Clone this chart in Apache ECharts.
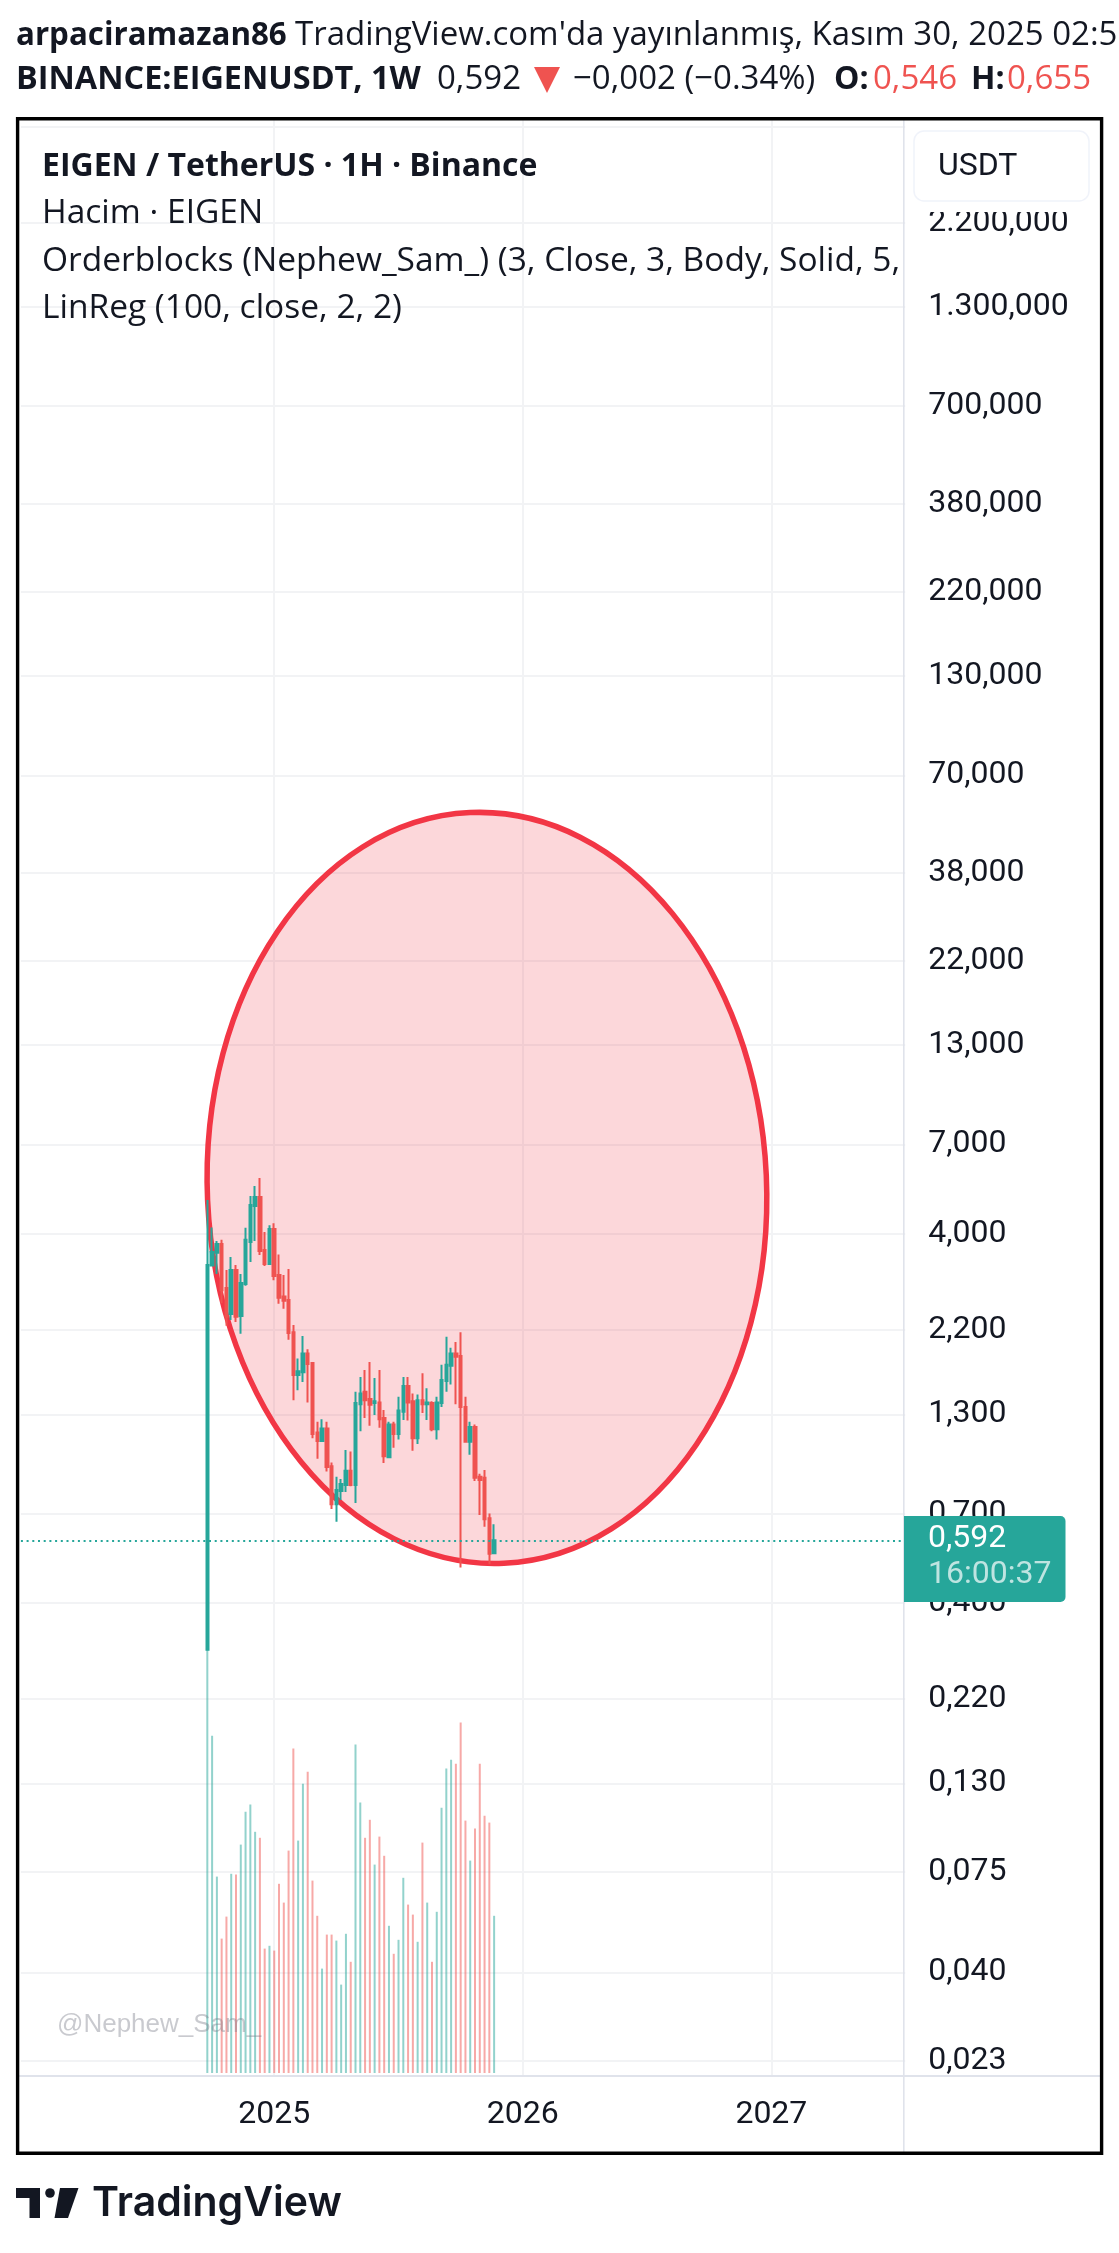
<!DOCTYPE html>
<html>
<head>
<meta charset="utf-8">
<style>
  html, body { margin: 0; padding: 0; background: #fff; }
  #container { width: 1119px; height: 2253px; }
</style>
</head>
<body>
<div id="container"></div>
<script src="https://cdn.jsdelivr.net/npm/echarts@6/dist/echarts.min.js"></script>
<script>
// weekly candles
const opens  = [0.299,3.29,3.56,3.76,2.86,2.43,3.20,2.40,2.93,3.81,4.77,5.04,3.62,3.32,4.13,3.10,2.71,2.65,2.17,1.66,1.69,1.90,1.79,1.16,1.10,1.19,0.94,0.742,0.806,0.836,0.914,0.836,1.385,1.495,1.43,1.395,1.40,1.27,0.995,1.22,1.15,1.32,1.55,1.41,1.12,1.42,1.385,1.395,1.185,1.395,1.60,1.76,1.90,1.87,1.36,1.095,1.20,0.88,0.875,0.68,0.546];
const closes = [3.30,3.58,3.76,2.82,2.39,3.20,2.39,2.95,3.86,4.80,5.04,3.60,3.32,4.13,3.08,2.69,2.64,2.16,1.66,1.70,1.90,1.78,1.15,1.10,1.19,0.936,0.742,0.811,0.842,0.914,0.836,1.395,1.48,1.42,1.38,1.41,1.26,1.00,1.22,1.15,1.33,1.55,1.40,1.12,1.42,1.385,1.40,1.185,1.40,1.61,1.77,1.90,1.86,1.36,1.095,1.20,0.875,0.863,0.675,0.545,0.592];
const lows   = [0.299,3.29,3.12,2.60,2.26,2.34,2.31,2.15,2.90,3.36,3.83,3.51,3.28,3.32,3.00,2.59,2.51,2.07,1.42,1.51,1.59,1.40,1.12,0.985,1.10,0.91,0.72,0.665,0.762,0.80,0.83,0.748,1.17,1.27,1.21,1.295,1.195,0.96,0.995,1.055,1.11,1.255,1.25,1.035,1.08,1.31,1.255,1.17,1.11,1.36,1.495,1.565,1.385,0.50,1.09,1.01,0.858,0.694,0.645,0.51,0.543];
const highs  = [4.95,4.17,3.83,3.86,3.20,3.47,3.30,3.12,4.16,5.07,5.40,5.68,4.05,4.23,4.28,3.52,3.10,3.22,2.27,1.84,2.12,1.95,1.80,1.24,1.26,1.24,0.963,0.88,0.868,1.04,1.03,1.495,1.64,1.714,1.80,1.63,1.714,1.336,1.24,1.24,1.45,1.64,1.64,1.48,1.47,1.68,1.53,1.41,1.45,1.77,2.11,1.97,2.04,2.17,1.45,1.24,1.22,0.897,0.919,0.70,0.655];
const volumes = [108,84.3,49.1,33.6,39.1,49.8,49.6,57.1,65.3,67.1,60.3,58.8,31.1,31.8,30.6,47.3,42.6,55.6,81.1,58.1,72.3,75.3,48.1,39.3,26.1,34.6,34.6,33.1,22.1,34.8,27.8,82.1,67.6,58.8,63.3,52.1,59.1,54.3,36.8,29.8,33.3,48.8,42.1,39.6,32.8,57.6,42.6,27.8,40.3,66.3,76.1,78.3,77.3,87.6,63.1,53.1,61.1,77.3,64.3,62.6,39.3];

const priceTicks = [4000,2200,1300,700,380,220,130,70,38,22,13,7,4,2.2,1.3,0.7,0.4,0.22,0.13,0.075,0.04,0.023];
const labelTicks = priceTicks.slice(1);
const yearTicks = ['2025-01-06','2026-01-05','2027-01-04'];
const lastPrice = 0.592;
// circle drawing anchors: time span and price span
const ellipseWeeks = ['2024-09-30','2026-12-28'];
const ellipsePrices = [55.6,0.512];
const ellipseTilt = 0.045;

const teal = '#26a69a';
const red = '#ef5350';
const ink = '#131722';
const gridColor = '#f2f3f5';
const paneLine = '#e0e3eb';
const WEEK = 7 * 24 * 3600 * 1000;

// the time axis runs on weekly slots, data starts at 2024-09-30
let weeks = [];
for (let i = 0; i < 186; i++) {
    weeks.push(new Date(Date.UTC(2024, 0, 1) + i * WEEK).toISOString().slice(0, 10));
}
const firstWeek = weeks.indexOf('2024-09-30');
const candleData = opens.map((o, i) => [weeks[firstWeek + i], o, closes[i], lows[i], highs[i]]);
const volumeData = volumes.map((v, i) => ({
    value: [weeks[firstWeek + i], v],
    itemStyle: { color: closes[i] >= opens[i] ? 'rgba(38,166,154,0.5)' : 'rgba(239,83,80,0.5)' }
}));

function fmtPrice(v) {
    return Number(v).toLocaleString('tr-TR', { minimumFractionDigits: 3, maximumFractionDigits: 3 });
}

function txt(x, y, text, font, fill, extra) {
    return {
        type: 'text', x: x, y: y, z: 20, silent: true,
        style: Object.assign({ text: text, font: font, fill: fill, textVerticalAlign: 'middle' }, extra || {})
    };
}

const sans = '"Open Sans"';
const mono = 'Roboto';

var dom = document.getElementById('container');
var myChart = echarts.init(dom, null, { renderer: 'canvas' });

var option = {
    animation: false,
    backgroundColor: '#fff',
    grid: { left: 20.9, right: 1119 - 905.2, top: 120, bottom: 2253 - 2076 },
    xAxis: {
        type: 'category',
        data: weeks,
        boundaryGap: false,
        axisLine: { show: false },
        axisTick: { show: false },
        splitLine: {
            show: true,
            interval: (i, v) => yearTicks.includes(v),
            lineStyle: { color: gridColor, width: 2 }
        },
        axisLabel: {
            interval: (i, v) => yearTicks.includes(v),
            formatter: v => v.slice(0, 4),
            margin: 23,
            color: ink,
            fontFamily: mono,
            fontSize: 32,
            hideOverlap: false
        }
    },
    yAxis: [
        {
            type: 'log',
            logBase: 10,
            position: 'right',
            min: 0.02095,
            max: 4173,
            axisLine: { show: false },
            axisTick: { show: false, customValues: priceTicks },
            splitLine: { show: true, lineStyle: { color: gridColor, width: 2 } },
            axisLabel: {
                customValues: labelTicks,
                formatter: fmtPrice,
                margin: 23,
                color: ink,
                fontFamily: mono,
                fontSize: 32
            }
        },
        {
            // hidden volume scale, base sits just above the time axis
            type: 'value',
            min: -0.75,
            max: 488.25,
            show: false,
            splitLine: { show: false }
        }
    ],
    series: [
        {
            type: 'custom',
            name: 'circle',
            z: 1,
            silent: true,
            clip: false,
            data: [[ellipseWeeks[0], ellipsePrices[0], ellipseWeeks[1], ellipsePrices[1]]],
            encode: { x: [0, 2], y: [1, 3] },
            renderItem: function (params, api) {
                const a = api.coord([ellipseWeeks[0], ellipsePrices[0]]);
                const b = api.coord([ellipseWeeks[1], ellipsePrices[1]]);
                const cx = (a[0] + b[0]) / 2;
                const cy = (a[1] + b[1]) / 2;
                return {
                    type: 'ellipse',
                    x: cx,
                    y: cy,
                    rotation: ellipseTilt,
                    shape: { cx: 0, cy: 0, rx: (b[0] - a[0]) / 2, ry: (b[1] - a[1]) / 2 },
                    style: { fill: 'rgba(242,54,69,0.2)', stroke: '#f23645', lineWidth: 5.5 }
                };
            }
        },
        {
            type: 'bar',
            name: 'Hacim',
            yAxisIndex: 1,
            z: 2,
            barWidth: 2,
            silent: true,
            data: volumeData
        },
        {
            type: 'candlestick',
            name: 'EIGEN / TetherUS',
            z: 3,
            barWidth: 3,
            silent: true,
            clip: false,
            data: candleData,
            encode: { x: 0, y: [1, 2, 3, 4] },
            itemStyle: { color: teal, color0: red, borderColor: teal, borderColor0: red, borderWidth: 2 },
            markLine: {
                silent: true,
                symbol: 'none',
                label: { show: false },
                lineStyle: { color: teal, type: [2, 3.7], width: 2, opacity: 1 },
                data: [{ yAxis: lastPrice }]
            }
        }
    ],
    graphic: [
        // frame, pane separators
        { type: 'rect', z: 15, silent: true, shape: { x: 906, y: 120, width: 194, height: 92 }, style: { fill: '#fff' } },
        { type: 'rect', z: 15, silent: true, shape: { x: 903, y: 119, width: 1.6, height: 2033 }, style: { fill: paneLine } },
        { type: 'rect', z: 15, silent: true, shape: { x: 19, y: 2075, width: 1082, height: 2 }, style: { fill: paneLine } },
        { type: 'rect', z: 30, silent: true, shape: { x: 17.6, y: 118.7, width: 1084, height: 2034.5 }, style: { fill: 'none', stroke: '#000', lineWidth: 3.4 } },
        // currency box
        { type: 'rect', z: 16, silent: true, shape: { x: 914, y: 131, width: 175, height: 70, r: 10 }, style: { fill: '#fff', stroke: '#f0f3fa', lineWidth: 1.5 } },
        txt(938, 167, 'USDT', '32px ' + mono, ink),
        // last price tag
        { type: 'rect', z: 16, silent: true, shape: { x: 904, y: 1516, width: 161.5, height: 86, r: [0, 5, 5, 0] }, style: { fill: teal } },
        txt(928, 1539, '0,592', '32px ' + mono, '#fff'),
        txt(928, 1575, '16:00:37', '32px ' + mono, 'rgba(255,255,255,0.7)'),
        // header
        txt(16, 36, 'arpaciramazan86', 'bold 31.3px ' + sans, ink),
        txt(295, 36, "TradingView.com'da yayınlanmış, Kasım 30, 2025 02:5", '33px ' + sans, ink),
        txt(16, 80, 'BINANCE:EIGENUSDT, 1W', 'bold 32.4px ' + sans, ink),
        txt(437, 80, '0,592', '33px ' + sans, ink),
        { type: 'polygon', z: 20, silent: true, shape: { points: [[534, 67], [560, 67], [547, 93]] }, style: { fill: red } },
        txt(573, 80, '−0,002 (−0.34%)', '33px ' + sans, ink),
        txt(834, 80, 'O:', 'bold 32px ' + sans, ink),
        txt(873, 80, '0,546', '33px ' + sans, red),
        txt(971, 80, 'H:', 'bold 32px ' + sans, ink),
        txt(1007, 80, '0,655', '33px ' + sans, red),
        // chart legend
        txt(42, 167, 'EIGEN / TetherUS · 1H · Binance', 'bold 32px ' + sans, ink),
        txt(42, 213, 'Hacim · EIGEN', '33.5px ' + sans, ink),
        txt(42, 261, 'Orderblocks (Nephew_Sam_) (3, Close, 3, Body, Solid, 5,', '33.5px ' + sans, ink),
        txt(42, 308, 'LinReg (100, close, 2, 2)', '33.5px ' + sans, ink),
        // watermark
        txt(57, 2025, '@Nephew_Sam_', '26px "Liberation Sans"', 'rgba(120,123,134,0.4)'),
        // logo
        { type: 'polygon', z: 20, silent: true, shape: { points: [[16, 2188], [40, 2188], [40, 2218], [29.5, 2218], [29.5, 2198], [16, 2198]] }, style: { fill: ink } },
        { type: 'circle', z: 20, silent: true, shape: { cx: 50, cy: 2193, r: 4.8 }, style: { fill: ink } },
        { type: 'polygon', z: 20, silent: true, shape: { points: [[60, 2188], [78.5, 2188], [68, 2218], [54.5, 2218]] }, style: { fill: ink } },
        txt(92, 2204, 'TradingView', '600 41px Inter', ink)
    ]
};

myChart.setOption(option);

window.addEventListener('resize', myChart.resize);
</script>
</body>
</html>
